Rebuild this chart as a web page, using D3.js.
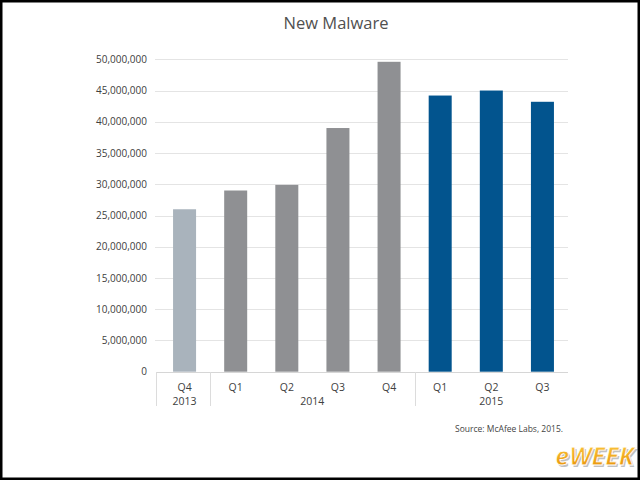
<!DOCTYPE html>
<html>
<head>
<meta charset="utf-8">
<script src="https://cdn.jsdelivr.net/npm/d3@7"></script>
<style>
  html, body { margin: 0; padding: 0; background: #fff; }
  svg { display: block; }
  text { font-family: "Open Sans", "Noto Sans", sans-serif; }
</style>
</head>
<body>
<script>
const quarters = ["Q4", "Q1", "Q2", "Q3", "Q4", "Q1", "Q2", "Q3"];
const years = ["2013", "2014", "2014", "2014", "2014", "2015", "2015", "2015"];
const values = [26000000, 29000000, 29900000, 39000000, 49600000, 44200000, 45000000, 43200000];
const barColors = ["#a9b3bc", "#8f9093", "#8f9093", "#8f9093", "#8f9093", "#02548e", "#02548e", "#02548e"];
const yTicks = [0, 5000000, 10000000, 15000000, 20000000, 25000000, 30000000, 35000000, 40000000, 45000000, 50000000];
const groups = [
  { label: "2013", from: 0, to: 0 },
  { label: "2014", from: 1, to: 4 },
  { label: "2015", from: 5, to: 7 }
];

const W = 640, H = 480;
const svg = d3.select("body").append("svg").attr("width", W).attr("height", H);

svg.append("rect").attr("x", 0).attr("y", 0).attr("width", W).attr("height", H).attr("fill", "#fff");

const ids = d3.range(values.length);
const x = d3.scaleBand().domain(ids).range([159, 568]).paddingInner(0.55).paddingOuter(0.275);
const y = d3.scaleLinear().domain([0, 50000000]).range([371.7, 59.3]);

// title
svg.append("text").attr("x", 336).attr("y", 29).attr("text-anchor", "middle")
  .attr("font-size", 16.5).attr("fill", "#505050").text("New Malware");

// gridlines
svg.append("g").selectAll("line").data(yTicks.filter(d => d > 0)).join("line")
  .attr("x1", 155).attr("x2", 568)
  .attr("y1", d => Math.round(y(d)) + 0.5).attr("y2", d => Math.round(y(d)) + 0.5)
  .attr("stroke", "#e4e4e4").attr("stroke-width", 1.2);

// y axis labels
const yAxis = d3.axisLeft(y).tickValues(yTicks).tickSize(0).tickPadding(0)
  .tickFormat(d3.format(","));
const yg = svg.append("g").attr("transform", "translate(147,0)").call(yAxis);
yg.select(".domain").remove();
yg.selectAll("text").attr("font-size", 10).attr("fill", "#404040")
  .attr("font-family", "'Open Sans', sans-serif");

// bars
svg.append("g").selectAll("rect").data(ids).join("rect")
  .attr("x", i => x(i)).attr("width", x.bandwidth())
  .attr("y", i => y(values[i])).attr("height", i => y(0) - y(values[i]))
  .attr("fill", i => barColors[i]);

// baseline
svg.append("line").attr("x1", 156).attr("x2", 568)
  .attr("y1", 372.5).attr("y2", 372.5).attr("stroke", "#d6d6d6").attr("stroke-width", 1);

// group separators: left edge of axis, then between year groups
const half = x.step() * x.paddingInner() / 2;
const sepXs = [156, x(groups[1].from) - half, x(groups[2].from) - half];
svg.append("g").selectAll("line").data(sepXs).join("line")
  .attr("x1", d => Math.round(d) + 0.5).attr("x2", d => Math.round(d) + 0.5)
  .attr("y1", 372).attr("y2", 406)
  .attr("stroke", "#dcdcdc").attr("stroke-width", 1);

// quarter labels
svg.append("g").selectAll("text").data(ids).join("text")
  .attr("x", i => x(i) + x.bandwidth() / 2).attr("y", 391)
  .attr("text-anchor", "middle").attr("font-size", 10.5).attr("fill", "#404040")
  .text(i => quarters[i]);

// year labels
svg.append("g").selectAll("text").data(groups).join("text")
  .attr("x", g => (x(g.from) + x(g.to) + x.bandwidth()) / 2).attr("y", 405)
  .attr("text-anchor", "middle").attr("font-size", 10.5).attr("fill", "#404040")
  .text(g => g.label);

// source
svg.append("text").attr("x", 563).attr("y", 432).attr("text-anchor", "end")
  .attr("font-size", 8.5).attr("fill", "#444").text("Source: McAfee Labs, 2015.");

// eWEEK logo
const defs = svg.append("defs");
const grad = defs.append("linearGradient").attr("id", "lg").attr("x1", 0).attr("y1", 0).attr("x2", 0).attr("y2", 1);
grad.append("stop").attr("offset", "0%").attr("stop-color", "#ffd24a");
grad.append("stop").attr("offset", "100%").attr("stop-color", "#e58a00");
svg.append("text").attr("x", 634).attr("y", 465).attr("text-anchor", "end")
  .attr("font-size", 25).attr("font-weight", "bold").attr("font-style", "italic")
  .attr("font-family", "'DejaVu Sans Condensed', 'DejaVu Sans', sans-serif")
  .attr("fill", "#999").attr("opacity", 0.6).text("eWEEK")
  .attr("transform", "translate(1.5,1.5)");
svg.append("text").attr("x", 634).attr("y", 465).attr("text-anchor", "end")
  .attr("font-size", 25).attr("font-weight", "bold").attr("font-style", "italic")
  .attr("font-family", "'DejaVu Sans Condensed', 'DejaVu Sans', sans-serif")
  .attr("fill", "url(#lg)").attr("stroke", "#fff").attr("stroke-width", 0.8)
  .text("eWEEK");

// frame
svg.append("rect").attr("x", 1).attr("y", 1).attr("width", W - 2).attr("height", H - 2)
  .attr("fill", "none").attr("stroke", "#000").attr("stroke-width", 3);
</script>
</body>
</html>
